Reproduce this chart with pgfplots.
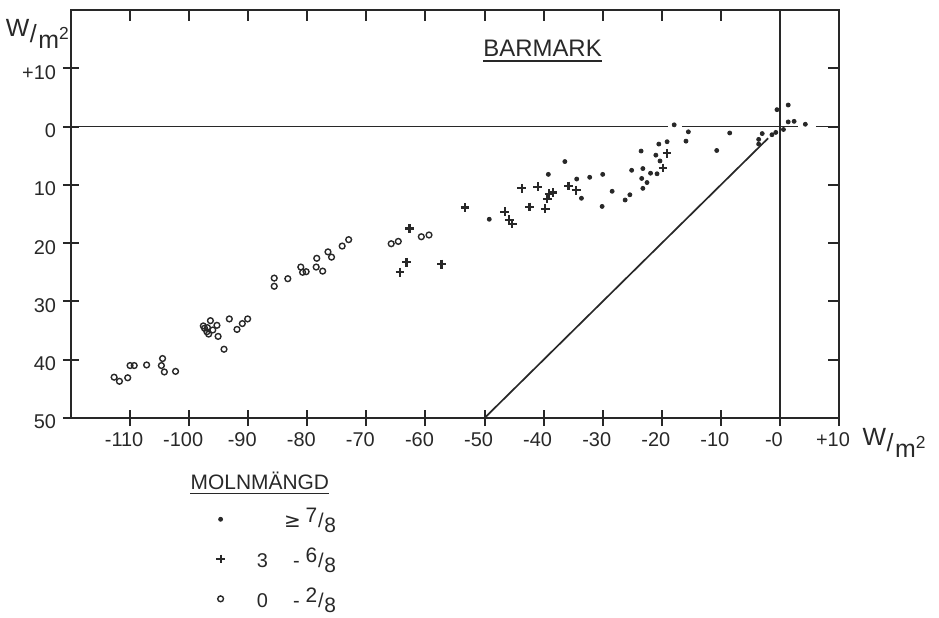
\documentclass[border=0pt]{standalone}
\usepackage{fontspec}
\setmainfont{Liberation Sans}
\newfontfamily\symfont{DejaVu Sans}
\usepackage{pgfplots}
\pgfplotsset{compat=1.18}

\definecolor{ink}{RGB}{40,40,40}

% raised numerator / lowered denominator, as in 7/8
\newcommand{\lfrac}[2]{\raisebox{0.5ex}{\fontsize{10.5}{12}\selectfont #1}\kern0.04em/\kern0.04em\raisebox{-0.5ex}{\fontsize{10.5}{12}\selectfont #2}}
% unit W/m^2
\newcommand{\wpm}{\raisebox{0.45ex}{W}\kern0.02em/\kern0.06em\raisebox{-0.45ex}{m\textsuperscript{2}}}

\begin{document}
\begin{tikzpicture}
\useasboundingbox (0bp,0bp) rectangle (469.5bp,309bp);

\begin{axis}[
  at={(35.5bp,100bp)}, anchor=south west,
  scale only axis, width=384bp, height=204bp,
  xmin=-120, xmax=10, ymin=-50, ymax=20,
  clip=false,
  axis line style={ink, line width=1bp},
  tick style={ink, line width=1bp},
  tick pos=left, tick align=center, major tick length=8bp,
  xtick={-110,-100,...,10},
  xticklabels={-110,-100,-90,-80,-70,-60,-50,-40,-30,-20,-10,-0,+10},
  ytick={-50,-40,...,10},
  yticklabels={50,40,30,20,10,0,+10},
  ticklabel style={font=\fontsize{10}{12}\selectfont, text=ink},
  xticklabel style={xshift=-3bp},
  yticklabel style={yshift=-2bp},
  legend style={at={(axis cs:-96.5,-64.0)}, anchor=north west, draw=none, fill=none,
    font=\fontsize{10}{12}\selectfont, text=ink, row sep=4.5bp, column sep=14bp},
  legend cell align=right,
]

% reference lines: zero levels and the line y = x
\addplot[ink, line width=0.9bp, forget plot] coordinates {(-120,0) (-18.9,0)};
\addplot[ink, line width=0.9bp, forget plot] coordinates {(-16.6,0) (3.0,0)};
\addplot[ink, line width=0.9bp, forget plot] coordinates {(6.1,0) (10,0)};
\addplot[ink, line width=0.9bp, forget plot] coordinates {(0,-50) (0,20)};
\addplot[ink, line width=0.85bp, forget plot] coordinates {(-50,-50) (-2,-2)};

% cloud cover >= 7/8
\addplot[only marks, mark=*, mark size=1bp, ink] coordinates {
(-49.2,-15.9) (-39.2,-8.2) (-36.4,-6.0) (-34.4,-9.0) (-33.6,-12.3)
(-32.2,-8.7) (-30.0,-8.2) (-30.1,-13.7) (-28.4,-11.1) (-26.2,-12.6)
(-25.4,-11.7) (-25.1,-7.5) (-23.5,-4.2) (-23.2,-7.2) (-23.4,-8.9)
(-22.5,-9.6) (-23.2,-10.6) (-21.9,-8.0) (-21.0,-4.9) (-20.5,-3.0)
(-20.3,-5.9) (-20.8,-8.1) (-19.1,-2.6) (-17.9,0.3) (-15.9,-2.5)
(-15.5,-0.9) (-10.7,-4.1) (-8.5,-1.1) (-3.6,-2.2) (-3.6,-3.0)
(-3.0,-1.2) (-1.35,-1.4) (-0.7,-1.0) (-0.5,2.9) (1.4,3.7)
(1.4,0.8) (2.4,0.9) (0.6,-0.5) (4.3,0.4)
};
\addlegendentry{{\symfont ≥}\hspace{2.5bp}\lfrac{7}{8}}

% cloud cover 3 - 6/8
\addplot[only marks, mark=+, mark size=2.2bp, line width=1.1bp, ink] coordinates {
(-64.3,-25.0) (-63.2,-23.3) (-62.7,-17.5) (-57.3,-23.6) (-53.3,-13.9)
(-46.6,-14.6) (-45.8,-16.0) (-45.3,-16.7) (-43.7,-10.6) (-42.4,-13.8)
(-41.0,-10.3) (-39.7,-14.1) (-39.4,-12.4) (-39.1,-11.5) (-38.4,-11.3)
(-35.8,-10.2) (-34.5,-10.9) (-19.8,-7.1) (-19.1,-4.6)
};
\addlegendentry{3\hspace{12.5bp}-\hspace{3bp}\lfrac{6}{8}}

% cloud cover 0 - 2/8
\addplot[only marks, mark=o, mark size=1.45bp, line width=0.7bp, ink] coordinates {
(-112.7,-43.0) (-111.8,-43.7) (-110.4,-43.1) (-110.0,-41.0) (-109.3,-41.0)
(-107.2,-40.9) (-104.5,-39.8) (-104.7,-41.0) (-104.2,-42.1) (-102.3,-42.0)
(-97.4,-34.6) (-97.6,-34.2) (-97.0,-35.2) (-96.9,-34.5) (-96.7,-35.6)
(-96.4,-33.3) (-96.0,-34.9) (-95.3,-34.1) (-95.1,-36.0) (-94.1,-38.2)
(-93.2,-33.0) (-91.9,-34.8) (-91.0,-33.8) (-90.1,-33.0)
(-85.6,-26.0) (-85.6,-27.4) (-83.3,-26.1) (-81.1,-24.1) (-80.8,-25.0)
(-80.2,-24.9) (-78.4,-22.6) (-78.5,-24.1) (-77.4,-24.8) (-76.5,-21.5)
(-75.9,-22.4) (-74.1,-20.5) (-73.0,-19.4) (-65.8,-20.1) (-64.6,-19.7)
(-60.7,-18.9) (-59.4,-18.6)
};
\addlegendentry{0\hspace{12.5bp}-\hspace{3bp}\lfrac{2}{8}}

% titles and units
\node[anchor=base west, inner sep=0pt, text=ink, font=\fontsize{12}{14}\selectfont]
  (bm) at (axis cs:-50.25,11.96) {BARMARK};
\draw[ink, line width=0.9bp] ([yshift=-2bp]bm.base west) -- ([yshift=-2bp]bm.base east);

\node[anchor=base west, inner sep=0pt, text=ink, font=\fontsize{10.5}{12}\selectfont]
  (mm) at (axis cs:-99.8,-62.35) {MOLNMÄNGD};
\draw[ink, line width=0.8bp] ([yshift=-1.7bp]mm.base west) -- ([yshift=-1.7bp]mm.base east);

\node[text=ink, font=\fontsize{12.5}{14}\selectfont] at (axis cs:-125.6,15.9) {\wpm};
\node[text=ink, font=\fontsize{12.5}{14}\selectfont] at (axis cs:19.4,-54.3) {\wpm};
\end{axis}

% inward ticks along the top and right edges
\begin{axis}[
  at={(35.5bp,100bp)}, anchor=south west,
  scale only axis, width=384bp, height=204bp,
  xmin=-120, xmax=10, ymin=-50, ymax=20,
  axis line style={ink, line width=1bp},
  tick style={ink, line width=1bp},
  tick pos=right, tick align=inside, major tick length=5.5bp,
  xtick={-110,-100,...,-10},
  ytick={-40,-30,...,10},
  xticklabels={}, yticklabels={},
]
\end{axis}
\end{tikzpicture}
\end{document}
